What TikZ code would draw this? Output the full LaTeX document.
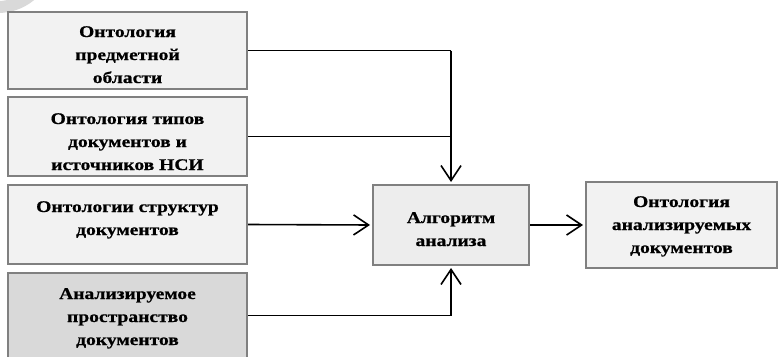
\documentclass[tikz,border=0pt]{standalone}
\usepackage{fontspec}
\setmainfont{Liberation Serif}[FakeStretch=1.2, BoldFeatures={FakeBold=0.7}]
\usetikzlibrary{arrows.meta}
\definecolor{boxline}{HTML}{808080}
\definecolor{boxfill}{HTML}{F2F2F2}
\definecolor{boxdark}{HTML}{D9D9D9}
\definecolor{algofill}{HTML}{EDEDED}
\tikzset{
  box/.style={draw=boxline, line width=2pt, fill=boxfill, rectangle, inner sep=0pt},
  btext/.style={anchor=base, align=center, inner sep=0pt, font=\fontsize{16.3}{23}\selectfont\bfseries},
  conn/.style={line width=1.6pt, draw=black},
  arr/.style={conn, -{Straight Barb[length=15pt,width=20pt,line width=1.6pt]}, shorten >=2pt},
}
\begin{document}
\begin{tikzpicture}[x=1pt,y=-1pt]
\useasboundingbox (0,0) rectangle (778,356);
% watermark arc
\draw[gray!30, line width=12pt] (-2,-44) circle[radius=51];
% boxes
\node[box, minimum width=239pt, minimum height=77pt,
  path picture={\node[btext] at ([yshift=-71pt]path picture bounding box.north) {Онтология\\предметной\\области};}]
  (b1) at (127.5,50.5) {};
\node[box, minimum width=239pt, minimum height=79pt,
  path picture={\node[btext] at ([yshift=-73pt]path picture bounding box.north) {Онтология типов\\документов и\\источников НСИ};}]
  (b2) at (127.5,136.5) {};
\node[box, minimum width=239pt, minimum height=79pt,
  path picture={\node[btext] at ([yshift=-50pt]path picture bounding box.north) {Онтологии структур\\документов};}]
  (b3) at (127.5,224.5) {};
\node[box, fill=boxdark, minimum width=239pt, minimum height=85pt,
  path picture={\node[btext] at ([yshift=-72pt]path picture bounding box.north) {Анализируемое\\пространство\\документов};}]
  (b4) at (127.5,315.5) {};
\node[box, fill=algofill, minimum width=156pt, minimum height=80pt,
  path picture={\node[btext] at ([yshift=-61pt]path picture bounding box.north) {Алгоритм\\анализа};}]
  (algo) at (451,225) {};
\node[box, minimum width=191pt, minimum height=86pt,
  path picture={\node[btext] at ([yshift=-71pt]path picture bounding box.north) {Онтология\\анализируемых\\документов};}]
  (out) at (681.5,225) {};
% connectors
\coordinate (j1) at (451,50.5);
\coordinate (j4) at (451,315.5);
\draw[conn] (b1.east) -- (j1);
\draw[conn] (b2.east) -- (b2.east -| algo.north);
\draw[arr] (j1) -- (algo.north);
\draw[arr] (b3.east) -- (algo.west);
\draw[conn] (b4.east) -- (j4);
\draw[arr] (j4) -- (algo.south);
\draw[arr] (algo.east) -- (out.west);
\end{tikzpicture}
\end{document}
